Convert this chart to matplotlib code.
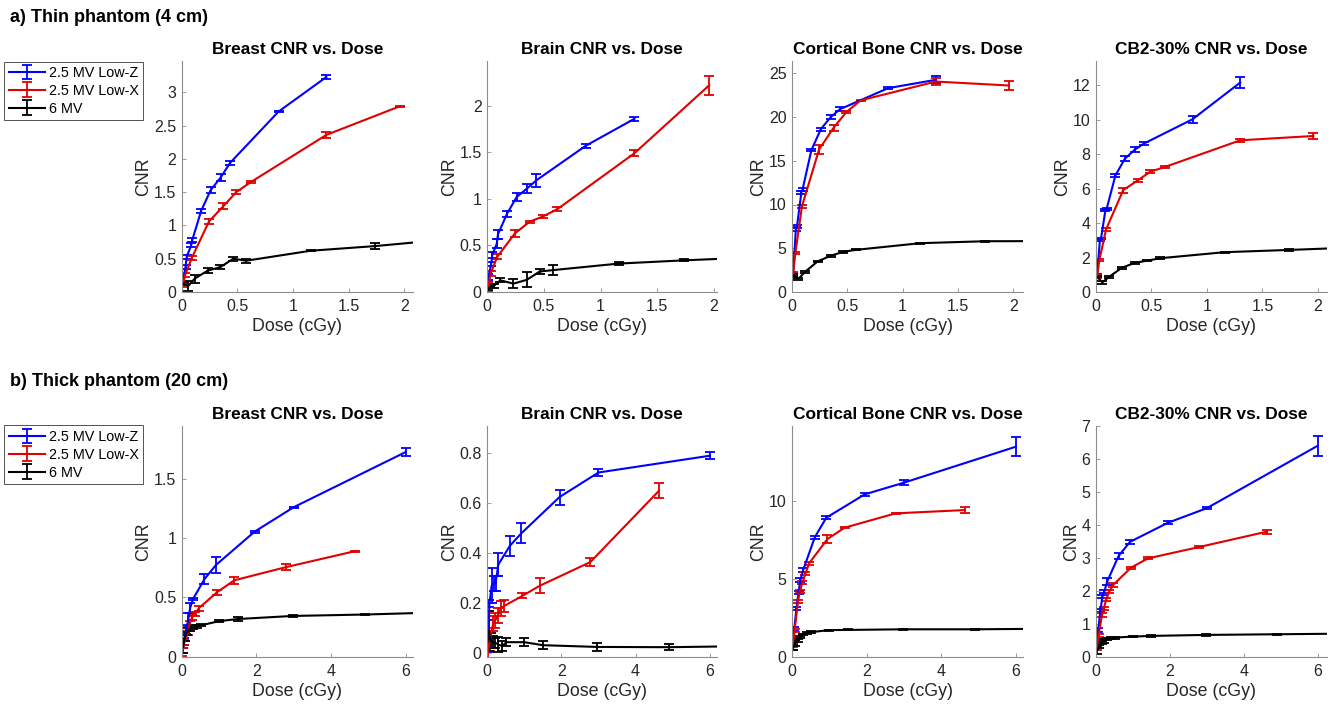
import matplotlib
matplotlib.use("Agg")
import matplotlib.pyplot as plt

plt.rcParams['font.family'] = ['Liberation Sans', 'DejaVu Sans']

# ---------------- data ----------------
labels = ["2.5 MV Low-Z", "2.5 MV Low-X", "6 MV"]
materials = ["Breast", "Brain", "Cortical Bone", "CB2-30%"]
colors = ["#0000ff", "#e00000", "#000000"]

# Thin phantom (4 cm) doses (cGy)
thin_dose_lowz = [0.01, 0.035, 0.045, 0.085, 0.095, 0.175, 0.26, 0.35, 0.435, 0.87, 1.3]
thin_dose_lowx = [0.01, 0.03, 0.09, 0.245, 0.375, 0.49, 0.62, 1.3, 1.96]
thin_dose_6mv = [0.005, 0.058, 0.116, 0.232, 0.348, 0.464, 0.58, 1.16, 1.74, 2.32]

thin_lowz_cnr = {
    "Breast": [0.15, 0.38, 0.53, 0.70, 0.78, 1.22, 1.53, 1.72, 1.94, 2.71, 3.23],
    "Brain": [0.16, 0.30, 0.40, 0.52, 0.62, 0.84, 1.02, 1.11, 1.20, 1.57, 1.86],
    "Cortical Bone": [1.97, 7.2, 7.5, 11.4, 11.7, 16.2, 18.6, 20.0, 20.9, 23.3, 24.25],
    "CB2-30%": [0.97, 3.0, 3.1, 4.75, 4.8, 6.76, 7.73, 8.26, 8.62, 10.02, 12.15],
}
thin_lowz_err = {
    "Breast": [0.02, 0.03, 0.03, 0.03, 0.03, 0.03, 0.05, 0.06, 0.03, 0.01, 0.03],
    "Brain": [0.03, 0.02, 0.03, 0.05, 0.05, 0.03, 0.04, 0.05, 0.07, 0.02, 0.02],
    "Cortical Bone": [0.15, 0.2, 0.2, 0.2, 0.2, 0.1, 0.2, 0.25, 0.2, 0.1, 0.4],
    "CB2-30%": [0.1, 0.05, 0.05, 0.05, 0.05, 0.1, 0.15, 0.15, 0.1, 0.2, 0.3],
}
thin_lowx_cnr = {
    "Breast": [0.11, 0.25, 0.51, 1.06, 1.29, 1.50, 1.65, 2.36, 2.79],
    "Brain": [0.06, 0.20, 0.38, 0.63, 0.755, 0.81, 0.89, 1.49, 2.22],
    "Cortical Bone": [2.05, 4.44, 9.8, 16.3, 18.75, 20.55, 21.9, 24.05, 23.6],
    "CB2-30%": [0.9, 1.84, 3.62, 5.91, 6.47, 6.98, 7.25, 8.8, 9.05],
}
thin_lowx_err = {
    "Breast": [0.03, 0.03, 0.03, 0.04, 0.04, 0.03, 0.02, 0.04, 0.01],
    "Brain": [0.05, 0.03, 0.03, 0.04, 0.01, 0.015, 0.02, 0.03, 0.1],
    "Cortical Bone": [0.2, 0.1, 0.2, 0.5, 0.35, 0.15, 0.1, 0.4, 0.5],
    "CB2-30%": [0.1, 0.05, 0.1, 0.15, 0.1, 0.1, 0.05, 0.1, 0.15],
}
thin_6mv_cnr = {
    "Breast": [0.13, 0.09, 0.20, 0.32, 0.375, 0.50, 0.47, 0.62, 0.69, 0.78],
    "Brain": [0.04, 0.065, 0.125, 0.09, 0.13, 0.22, 0.235, 0.305, 0.34, 0.37],
    "Cortical Bone": [1.95, 1.5, 2.28, 3.5, 4.13, 4.6, 4.82, 5.58, 5.8, 5.82],
    "CB2-30%": [0.9, 0.56, 0.87, 1.4, 1.69, 1.82, 1.96, 2.31, 2.44, 2.58],
}
thin_6mv_err = {
    "Breast": [0.02, 0.07, 0.06, 0.04, 0.03, 0.03, 0.03, 0.01, 0.04, 0.01],
    "Brain": [0.02, 0.02, 0.02, 0.045, 0.08, 0.03, 0.05, 0.02, 0.01, 0.01],
    "Cortical Bone": [0.1, 0.1, 0.1, 0.1, 0.1, 0.1, 0.05, 0.05, 0.05, 0.05],
    "CB2-30%": [0.05, 0.1, 0.05, 0.05, 0.05, 0.05, 0.05, 0.03, 0.05, 0.03],
}

# Thick phantom (20 cm) doses (cGy)
thick_dose_lowz = [0.025, 0.06, 0.12, 0.175, 0.225, 0.3, 0.61, 0.92, 1.95, 3.0, 6.0]
thick_dose_lowx = [0.02, 0.07, 0.16, 0.21, 0.28, 0.36, 0.46, 0.95, 1.41, 2.78, 4.63]
thick_dose_6mv = [0.04, 0.09, 0.15, 0.22, 0.3, 0.4, 0.52, 1.0, 1.5, 2.97, 4.9, 9.8]

thick_lowz_cnr = {
    "Breast": [0.05, 0.13, 0.23, 0.31, 0.41, 0.485, 0.655, 0.775, 1.055, 1.262, 1.728],
    "Brain": [0.07, 0.20, 0.27, 0.28, 0.28, 0.355, 0.43, 0.48, 0.625, 0.723, 0.79],
    "Cortical Bone": [0.96, 1.78, 3.1, 4.13, 4.93, 5.57, 7.67, 8.93, 10.43, 11.18, 13.49],
    "CB2-30%": [0.5, 0.81, 1.41, 1.82, 1.97, 2.27, 3.05, 3.48, 4.06, 4.5, 6.39],
}
thick_lowz_err = {
    "Breast": [0.02, 0.03, 0.04, 0.06, 0.04, 0.01, 0.04, 0.07, 0.01, 0.005, 0.03],
    "Brain": [0.065, 0.015, 0.07, 0.03, 0.03, 0.045, 0.04, 0.04, 0.03, 0.015, 0.015],
    "Cortical Bone": [0.1, 0.1, 0.1, 0.1, 0.1, 0.1, 0.1, 0.1, 0.1, 0.15, 0.6],
    "CB2-30%": [0.05, 0.05, 0.05, 0.05, 0.05, 0.1, 0.1, 0.05, 0.05, 0.03, 0.3],
}
thick_lowx_cnr = {
    "Breast": [0.04, 0.12, 0.20, 0.28, 0.33, 0.36, 0.41, 0.545, 0.645, 0.755, 0.89],
    "Brain": [0.01, 0.05, 0.12, 0.13, 0.15, 0.18, 0.19, 0.23, 0.27, 0.365, 0.65],
    "Cortical Bone": [0.54, 1.7, 3.53, 4.2, 4.75, 5.35, 6.0, 7.56, 8.29, 9.21, 9.42],
    "CB2-30%": [0.25, 0.64, 1.26, 1.46, 1.74, 1.97, 2.17, 2.7, 2.98, 3.32, 3.79],
}
thick_lowx_err = {
    "Breast": [0.03, 0.02, 0.02, 0.02, 0.02, 0.02, 0.02, 0.02, 0.03, 0.025, 0.005],
    "Brain": [0.05, 0.04, 0.03, 0.03, 0.03, 0.03, 0.025, 0.01, 0.03, 0.015, 0.03],
    "Cortical Bone": [0.1, 0.1, 0.1, 0.1, 0.1, 0.1, 0.1, 0.25, 0.05, 0.05, 0.2],
    "CB2-30%": [0.05, 0.05, 0.05, 0.05, 0.05, 0.05, 0.05, 0.03, 0.03, 0.02, 0.06],
}
thick_6mv_cnr = {
    "Breast": [0.085, 0.17, 0.21, 0.24, 0.25, 0.255, 0.265, 0.30, 0.318, 0.344, 0.356, 0.40],
    "Brain": [0.09, 0.05, 0.045, 0.043, 0.035, 0.03, 0.045, 0.045, 0.033, 0.026, 0.025, 0.035],
    "Cortical Bone": [0.6, 0.9, 1.05, 1.25, 1.43, 1.54, 1.58, 1.71, 1.72, 1.76, 1.76, 1.85],
    "CB2-30%": [0.2, 0.3, 0.42, 0.48, 0.54, 0.56, 0.58, 0.61, 0.63, 0.66, 0.68, 0.73],
}
thick_6mv_err = {
    "Breast": [0.05, 0.04, 0.03, 0.02, 0.015, 0.01, 0.01, 0.01, 0.02, 0.01, 0.008, 0.01],
    "Brain": [0.08, 0.03, 0.025, 0.02, 0.03, 0.02, 0.015, 0.015, 0.015, 0.015, 0.012, 0.01],
    "Cortical Bone": [0.15, 0.2, 0.1, 0.05, 0.05, 0.05, 0.05, 0.03, 0.03, 0.03, 0.03, 0.03],
    "CB2-30%": [0.12, 0.05, 0.05, 0.05, 0.03, 0.03, 0.03, 0.02, 0.02, 0.02, 0.02, 0.02],
}

thin_xlim = {"Breast": 2.08, "Brain": 2.03, "Cortical Bone": 2.09, "CB2-30%": 2.08}
thin_ylim = {"Breast": (0, 3.47), "Brain": (0, 2.48), "Cortical Bone": (0, 26.4), "CB2-30%": (0, 13.4)}
thin_yticks = {"Breast": [0, 0.5, 1, 1.5, 2, 2.5, 3], "Brain": [0, 0.5, 1, 1.5, 2],
               "Cortical Bone": [0, 5, 10, 15, 20, 25], "CB2-30%": [0, 2, 4, 6, 8, 10, 12]}
thin_xticks = [0, 0.5, 1, 1.5, 2]

thick_xlim = {"Breast": 6.2, "Brain": 6.2, "Cortical Bone": 6.2, "CB2-30%": 6.25}
thick_ylim = {"Breast": (0, 1.95), "Brain": (-0.013, 0.91), "Cortical Bone": (0, 14.84), "CB2-30%": (0, 7.0)}
thick_yticks = {"Breast": [0, 0.5, 1, 1.5], "Brain": [0, 0.2, 0.4, 0.6, 0.8],
                "Cortical Bone": [0, 5, 10], "CB2-30%": [0, 1, 2, 3, 4, 5, 6, 7]}
thick_xticks = [0, 2, 4, 6]

# ---------------- figure ----------------
W, H = 1336, 706
fig = plt.figure(figsize=(W / 100, H / 100), dpi=100)

lefts = [181.7, 487.2, 792.0, 1096.0]
widths = [231.5, 230.0, 231.3, 230.8]
rows = [(61.0, 292.0), (425.7, 656.7)]

axcol = "#8c8c8c"
txtcol = "#262626"


def fmt(v):
    return "%g" % v


def make_axes(left, top, bottom, width):
    ax = fig.add_axes([left / W, 1 - bottom / H, width / W, (bottom - top) / H])
    for s in ["top", "right"]:
        ax.spines[s].set_visible(False)
    for s in ["left", "bottom"]:
        ax.spines[s].set_color(axcol)
        ax.spines[s].set_linewidth(0.8)
    ax.tick_params(direction="in", length=3, width=0.6, color=axcol,
                   labelcolor=txtcol, labelsize=11.5)
    ax.tick_params(axis="x", pad=5)
    ax.tick_params(axis="y", pad=4)
    return ax


datasets = [
    (thin_dose_lowz, thin_lowz_cnr, thin_lowz_err, thin_dose_lowx, thin_lowx_cnr, thin_lowx_err,
     thin_dose_6mv, thin_6mv_cnr, thin_6mv_err, thin_xlim, thin_ylim, thin_xticks, thin_yticks),
    (thick_dose_lowz, thick_lowz_cnr, thick_lowz_err, thick_dose_lowx, thick_lowx_cnr, thick_lowx_err,
     thick_dose_6mv, thick_6mv_cnr, thick_6mv_err, thick_xlim, thick_ylim, thick_xticks, thick_yticks),
]

first_axes = []
for r, (top, bottom) in enumerate(rows):
    (dz, cz, ez, dx, cx, ex, d6, c6, e6, xl, yl, xt, yt) = datasets[r]
    for c, mat in enumerate(materials):
        ax = make_axes(lefts[c], top, bottom, widths[c])
        series = [(dz, cz[mat], ez[mat]), (dx, cx[mat], ex[mat]), (d6, c6[mat], e6[mat])]
        hs = []
        for (d, v, e), col, lab in zip(series, colors, labels):
            h = ax.errorbar(d, v, yerr=e, color=col, lw=1.5, elinewidth=1.3,
                            capsize=3.4, capthick=1.3, label=lab)
            hs.append(h)
        ax.set_xlim(0, xl[mat])
        ax.set_ylim(*yl[mat])
        ax.set_xticks(xt)
        ax.set_xticklabels([fmt(t) for t in xt])
        ax.set_yticks(yt[mat])
        ax.set_yticklabels([fmt(t) for t in yt[mat]])
        ax.set_title(mat + " CNR vs. Dose", fontsize=12.4, fontweight="bold",
                     color="black", pad=5)
        ax.set_xlabel("Dose (cGy)", fontsize=12.8, color=txtcol, labelpad=3)
        ax.set_ylabel("CNR", fontsize=12.8, color=txtcol, labelpad=1)
        if c == 0:
            first_axes.append((ax, hs))

# section headings
fig.text(10 / W, 1 - 18 / H, "a) Thin phantom (4 cm)", fontsize=13, fontweight="bold",
         ha="left", va="center")
fig.text(10 / W, 1 - 381 / H, "b) Thick phantom (20 cm)", fontsize=13, fontweight="bold",
         ha="left", va="center")

# legends
for (ax, hs), ytop in zip(first_axes, [61.5, 425.5]):
    leg = fig.legend(hs, labels, loc="upper left", bbox_to_anchor=(4.5 / W, 1 - ytop / H),
                     fontsize=10.4, frameon=True, fancybox=False, borderpad=0.3,
                     labelspacing=0.27, handlelength=2.5, handletextpad=0.25,
                     borderaxespad=0.0)
    leg.get_frame().set_edgecolor("#262626")
    leg.get_frame().set_linewidth(0.7)

fig.savefig("out.png", dpi=100)
